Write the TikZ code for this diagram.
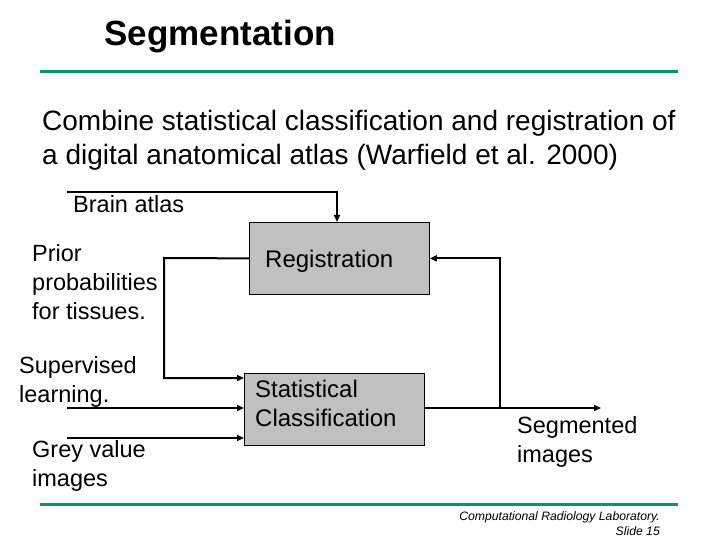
\documentclass[tikz,border=0pt]{standalone}
\usepackage{fontspec}
\setmainfont{Liberation Sans}
\usetikzlibrary{arrows.meta,positioning}
\definecolor{rulegreen}{RGB}{0,153,102}
\definecolor{boxgrey}{RGB}{192,192,192}
\tikzset{
    line/.style  = {-{Triangle[length=7pt,width=6pt]}, line width=2pt},
    block/.style = {draw, thick, fill=boxgrey, minimum width=180pt, minimum height=72pt,
            inner sep=0pt},
    lbl/.style   = {align=left, anchor=north west, inner sep=0pt,
            font=\fontsize{23.5}{29}\selectfont},
}
\begin{document}
\begin{tikzpicture}[x=1pt,y=-1pt]
    \useasboundingbox (0,0) rectangle (720,540);
    % Title and rules
    \node[anchor=west, font=\fontsize{35}{40}\selectfont\bfseries] (title) at (101,37) {Segmentation};
    \draw[rulegreen, line width=3pt] (40,72) -- (678,72);
    \draw[rulegreen, line width=3pt] (40,504) -- (678,504);
    \node[anchor=north west, align=left, inner sep=0pt, font=\fontsize{28}{34}\selectfont] (intro) at (42,110)
        {Combine statistical classification and registration of\\a digital anatomical atlas (Warfield et al. 2000)};
    % Boxes
    \node[block, anchor=north west] (reg) at (249,222) {};
    \node[anchor=west, inner sep=0pt, font=\fontsize{24}{29}\selectfont] at (265,261) {Registration};
    \node[block, anchor=north west] (stat) at (244,373) {};
    \node[anchor=north west, align=left, inner sep=0pt, font=\fontsize{24}{29}\selectfont] at (255,380) {Statistical\\Classification};
    % Labels
    \node[lbl] (atlas) at (73,195) {Brain atlas};
    \node[lbl] (prior) at (32,244) {Prior\\probabilities\\for tissues.};
    \node[lbl] (sup) at (19,356) {Supervised\\learning.};
    \node[lbl] (grey) at (32,440) {Grey value\\images};
    \node[lbl] (seg) at (517,416) {Segmented\\images};
    \node[anchor=north east, align=right, inner sep=0pt, font=\fontsize{12.2}{15}\selectfont\itshape] (foot) at (660,511)
        {Computational Radiology Laboratory.\\Slide 15};
    % Connector points
    \coordinate (atlasIn) at (67,192);
    \coordinate (supIn) at (67,408);
    \coordinate (greyIn) at (67,438);
    \coordinate (segOut) at (601,408);
    \coordinate (fork) at (500,408);
    \coordinate (loop) at (164,258);
    % Arrows
    \draw[line] (atlasIn) -| (reg.north -| 337,0);
    \draw[line] (fork) |- (reg.east);
    \draw[line] (reg.west) -- (loop) |- (stat.west |- 0,378);
    \draw[line] (supIn) -- (stat.west |- 0,408);
    \draw[line] (greyIn) -- (stat.west |- 0,438);
    \draw[line] (stat.east |- 0,408) -- (segOut);
\end{tikzpicture}
\end{document}
